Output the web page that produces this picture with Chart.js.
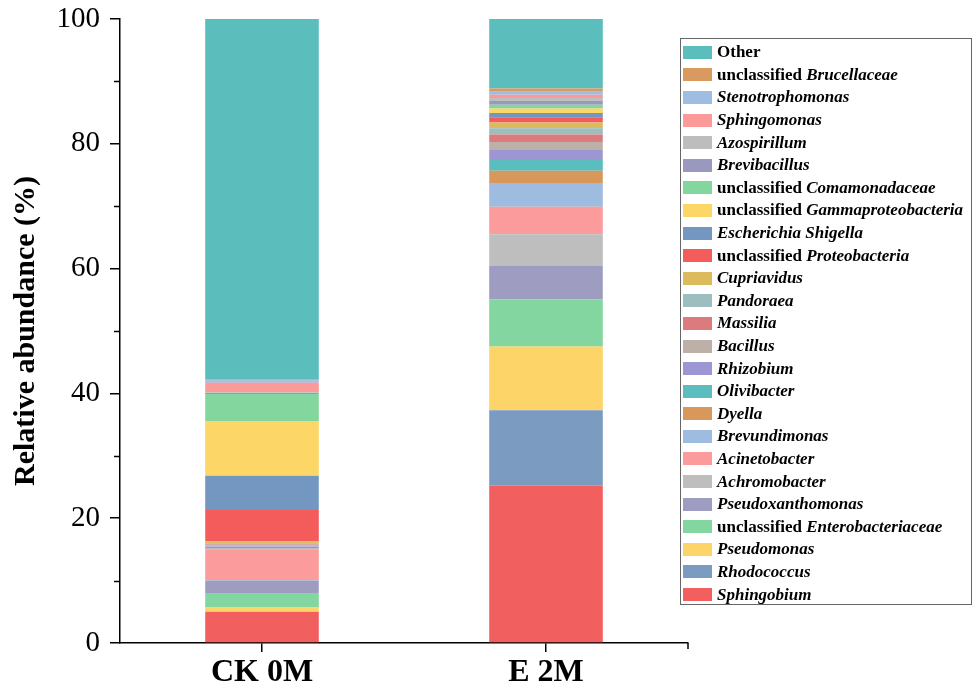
<!DOCTYPE html>
<html>
<head>
<meta charset="utf-8">
<script src="https://cdn.jsdelivr.net/npm/chart.js@4.4.1/dist/chart.umd.min.js"></script>
<style>
  body { margin: 0; background: #fff; }
  #wrap { position: relative; width: 978px; height: 697px; }
  #legend {
    position: absolute; left: 680px; top: 38px; width: 292px; height: 567px;
    border: 1px solid #666; box-sizing: border-box; padding-top: 2px;
    font-family: 'Liberation Serif', 'Times New Roman', serif; font-weight: bold; font-size: 17px; color: #000;
  }
  .row { height: 22.6px; display: flex; align-items: center; white-space: nowrap; }
  .sw { width: 29px; height: 13px; margin-left: 2px; margin-right: 5px; flex: none; }
</style>
</head>
<body>
<div id="wrap">
  <canvas id="myChart" width="978" height="697"></canvas>
  <div id="legend"></div>
</div>
<script>
// samples on the x axis
const categories = ['CK 0M', 'E 2M'];

// taxa, bottom of the stack first
const taxa = [
  'Sphingobium', 'Rhodococcus', 'Pseudomonas', 'unclassified Enterobacteriaceae',
  'Pseudoxanthomonas', 'Achromobacter', 'Acinetobacter', 'Brevundimonas', 'Dyella',
  'Olivibacter', 'Rhizobium', 'Bacillus', 'Massilia', 'Pandoraea', 'Cupriavidus',
  'unclassified Proteobacteria', 'Escherichia Shigella', 'unclassified Gammaproteobacteria',
  'unclassified Comamonadaceae', 'Brevibacillus', 'Azospirillum', 'Sphingomonas',
  'Stenotrophomonas', 'unclassified Brucellaceae', 'Other'
];

// relative abundance (%)
const ck0m = [5.0, 0.0, 0.7, 2.2, 2.1, 0.1, 4.8, 0.1, 0.1, 0.05, 0.3, 0.2, 0.15, 0.2, 0.3,
              5.0, 5.5, 8.7, 4.4, 0.15, 0.15, 1.5, 0.4, 0.1, 57.8];
const e2m  = [25.2, 12.1, 10.2, 7.6, 5.3, 5.1, 4.4, 3.8, 2.0, 1.7, 1.6, 1.3, 1.2, 1.0, 0.9,
              0.85, 0.7, 0.7, 0.6, 0.6, 0.5, 0.5, 0.5, 0.5, 11.15];

const colors = [
  '#f25f5f', '#7b9cc0', '#fcd468', '#84d6a0', '#9e9cc0', '#bebebe', '#fc9b9b', '#9dbce0',
  '#d9985b', '#5bbdbd', '#9c97d2', '#bcb0a8', '#dc7b7e', '#9cbebe', '#dcbb5c', '#f45b5b',
  '#7397c0', '#fcd666', '#82d69e', '#9a98be', '#bdbdbd', '#fc9a9a', '#9ebde0', '#d89a5e',
  '#5cbdbd'
];

const yMajor = [0, 20, 40, 60, 80, 100];
const yMinor = [10, 30, 50, 70, 90];

const serif = "'Liberation Serif', 'Times New Roman', serif";

// short minor ticks on y, and the closing tick at the end of the x axis
const extraTicks = {
  id: 'extraTicks',
  afterDraw(chart) {
    const y = chart.scales.y, x = chart.scales.x, ctx = chart.ctx;
    ctx.save();
    ctx.strokeStyle = '#000';
    ctx.lineWidth = 1.5;
    yMinor.forEach(v => {
      const py = Math.round(y.getPixelForValue(v)) + 0.5;
      ctx.beginPath();
      ctx.moveTo(y.right - 6, py);
      ctx.lineTo(y.right, py);
      ctx.stroke();
    });
    ctx.beginPath();
    ctx.moveTo(x.right, x.top);
    ctx.lineTo(x.right, x.top + 6);
    ctx.stroke();
    ctx.restore();
  }
};

const ctx = document.getElementById('myChart').getContext('2d');
new Chart(ctx, {
  type: 'bar',
  data: {
    labels: categories,
    datasets: taxa.map((t, i) => ({
      label: t,
      data: [ck0m[i], e2m[i]],
      backgroundColor: colors[i],
      borderWidth: 0,
      barPercentage: 0.4,
      categoryPercentage: 1
    }))
  },
  options: {
    responsive: false,
    animation: false,
    layout: { padding: { top: 19, right: 290, left: 0, bottom: 0 } },
    plugins: { legend: { display: false }, tooltip: { enabled: false } },
    scales: {
      x: {
        stacked: true,
        offset: true,
        grid: { drawOnChartArea: false, offset: false, tickLength: 9, color: '#000', lineWidth: 1.5 },
        border: { color: '#000', width: 1.5 },
        ticks: { color: '#000', padding: 2, font: { family: serif, size: 32, weight: 'bold' } },
        afterFit(s) { s.height = 54; s.paddingLeft = 0; s.paddingRight = 0; }
      },
      y: {
        stacked: true,
        min: 0,
        max: 100,
        afterBuildTicks(s) { s.ticks = yMajor.map(v => ({ value: v })); },
        grid: { drawOnChartArea: false, tickLength: 10, color: '#000', lineWidth: 1.5 },
        border: { color: '#000', width: 1.5 },
        ticks: { color: '#000', padding: 10, font: { family: serif, size: 29 } },
        title: {
          display: true,
          text: 'Relative abundance (%)',
          color: '#000',
          padding: { top: 8, bottom: 0 },
          font: { family: serif, size: 30, weight: 'bold' }
        },
        afterFit(s) { s.width = 120; s.paddingTop = 0; s.paddingBottom = 0; }
      }
    }
  },
  plugins: [extraTicks]
});

// legend: top of the stack first, genus names in italics
const legend = document.getElementById('legend');
for (let i = taxa.length - 1; i >= 0; i--) {
  const row = document.createElement('div');
  row.className = 'row';
  const sw = document.createElement('span');
  sw.className = 'sw';
  sw.style.background = colors[i];
  row.appendChild(sw);
  const txt = document.createElement('span');
  const name = taxa[i];
  if (name === 'Other') {
    txt.textContent = name;
  } else if (name.startsWith('unclassified ')) {
    txt.innerHTML = 'unclassified&nbsp;<i>' + name.slice(13) + '</i>';
  } else {
    txt.innerHTML = '<i>' + name + '</i>';
  }
  row.appendChild(txt);
  legend.appendChild(row);
}
</script>
</body>
</html>
